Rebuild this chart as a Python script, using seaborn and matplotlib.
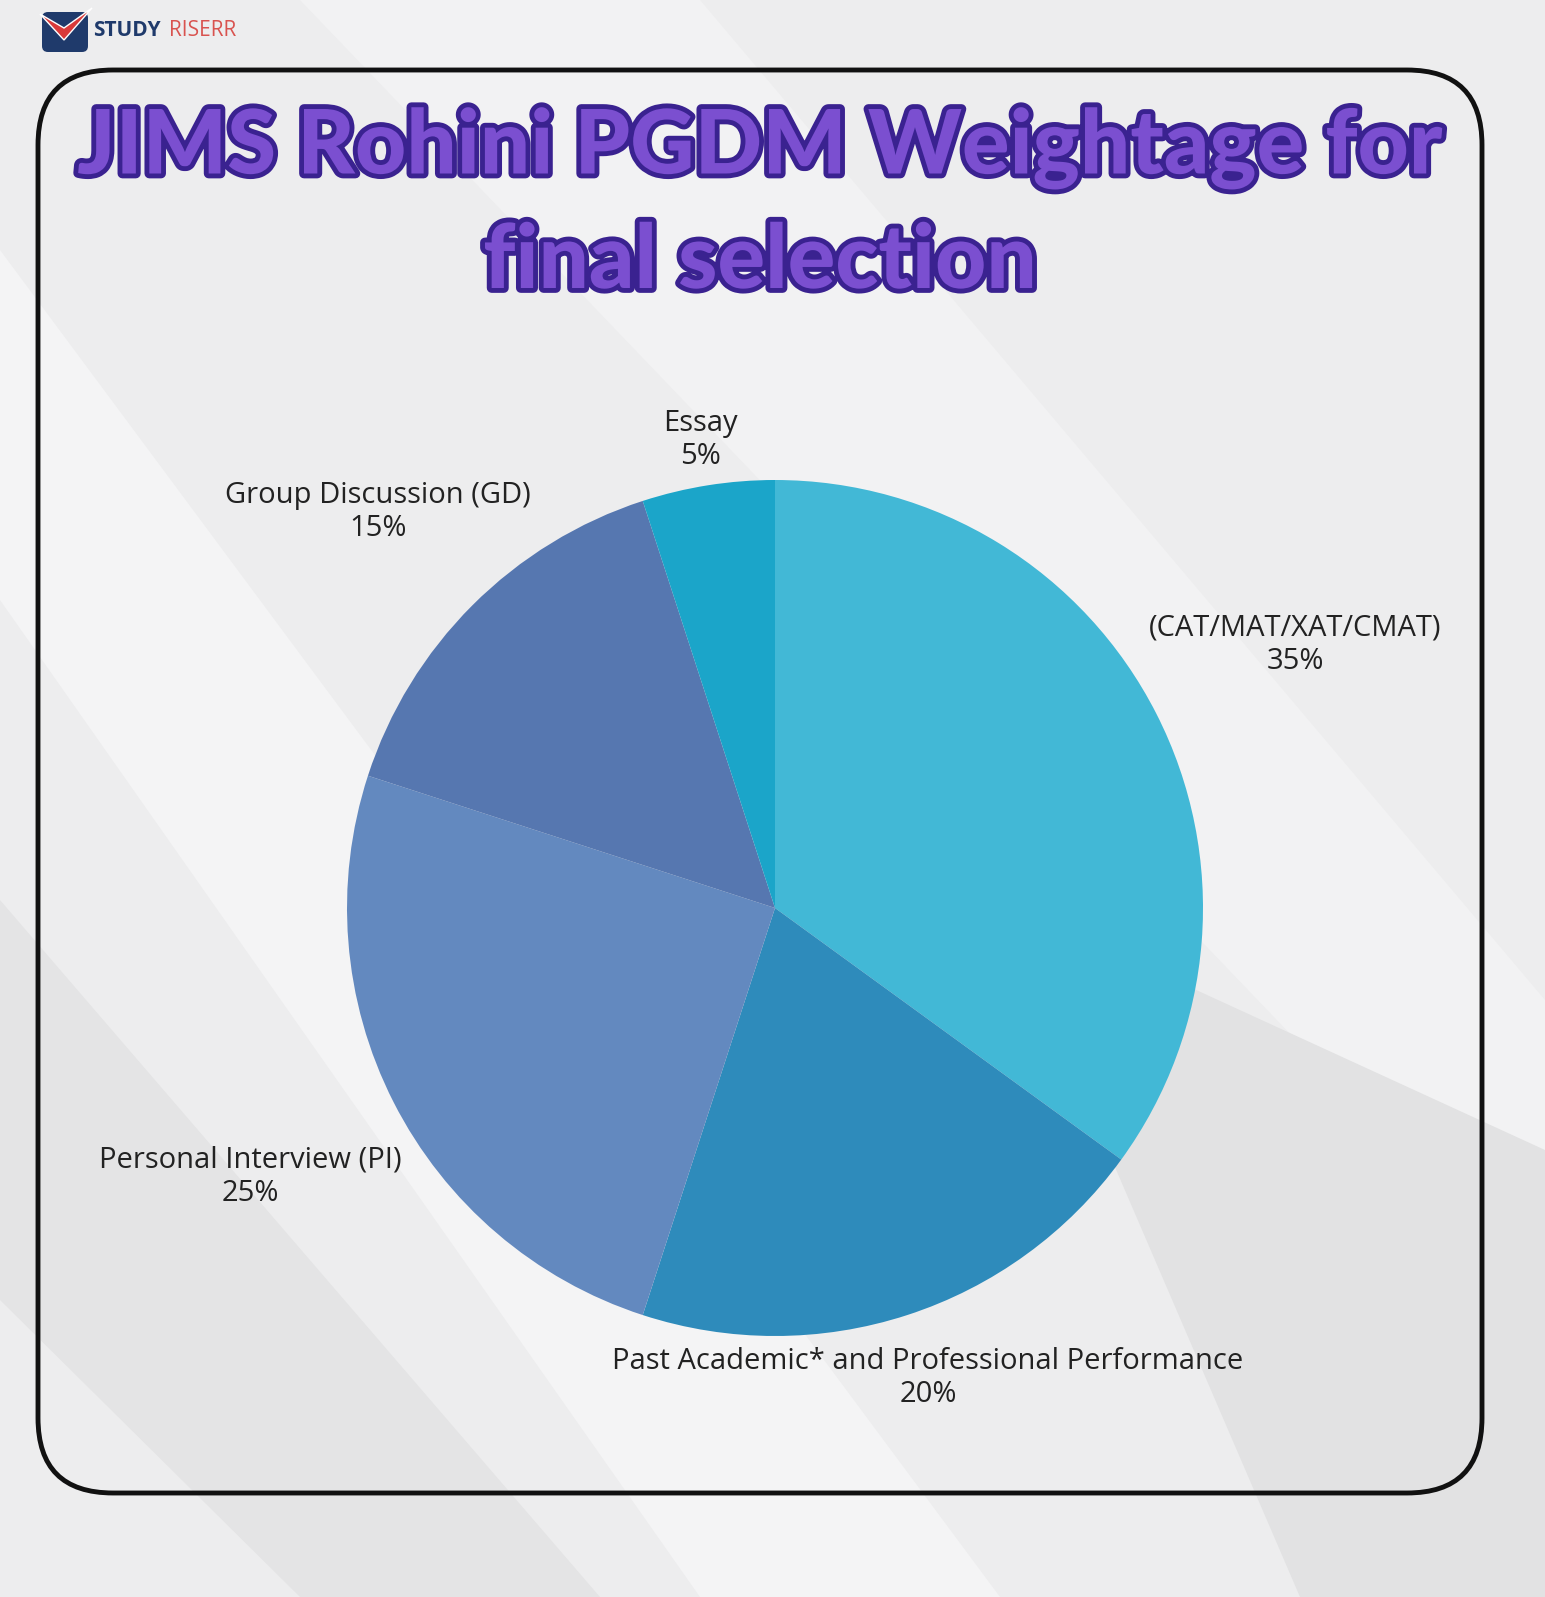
import matplotlib
matplotlib.use("Agg")
import matplotlib.pyplot as plt
import seaborn as sns
from matplotlib.patches import FancyBboxPatch, Polygon
import matplotlib.patheffects as pe

sns.set_theme(style="white")
plt.rcParams['font.family'] = ['Open Sans', 'DejaVu Sans']

categories = ["(CAT/MAT/XAT/CMAT)", "Past Academic* and Professional Performance",
              "Personal Interview (PI)", "Group Discussion (GD)", "Essay"]
values = [35, 20, 25, 15, 5]
colors = ["#42B8D6", "#2E8BBB", "#6389BF", "#5677B0", "#1BA5C9"]
title_lines = ["JIMS Rohini PGDM Weightage for", "final selection"]

W, H = 1545, 1597
fig = plt.figure(figsize=(W/100, H/100), dpi=100)
fig.patch.set_facecolor("#EDEDEE")

bg = fig.add_axes([0, 0, 1, 1])
bg.set_xlim(0, W); bg.set_ylim(H, 0); bg.axis("off")
for pts, c in [([(0, 250), (0, 600), (700, 1597), (1000, 1597)], "#F4F4F5"),
               ([(300, 0), (700, 0), (1545, 1000), (1545, 1300)], "#F2F2F3"),
               ([(0, 900), (0, 1300), (300, 1597), (600, 1597)], "#E4E4E5"),
               ([(1000, 900), (1545, 1150), (1545, 1597), (1300, 1597)], "#E2E2E3")]:
    bg.add_patch(Polygon(pts, closed=True, facecolor=c, edgecolor="none"))
bg.add_patch(FancyBboxPatch((38, 70), 1444, 1423, boxstyle="round,pad=0,rounding_size=75",
                            facecolor="none", edgecolor="#111111", linewidth=3.5))
# logo
bg.add_patch(FancyBboxPatch((42, 12), 46, 40, boxstyle="round,pad=0,rounding_size=6",
                            facecolor="#1F3A6B", edgecolor="none"))
bg.add_patch(Polygon([(40, 14), (64, 40), (92, 8), (64, 28)], closed=True, facecolor="#D93A3A"))
bg.text(93, 31, "STUDY", fontsize=15, fontweight="bold", color="#1F3A6B", va="center", ha="left")
bg.text(169, 31, "RISERR", fontsize=15, color="#D9534F", va="center", ha="left")

for y, line in zip([148, 262], title_lines):
    t = bg.text(760, y, line, fontsize=64, fontweight="black", color="#7B4FD0",
                ha="center", va="center", family=["Lato", "DejaVu Sans"])
    t.set_path_effects([pe.withStroke(linewidth=7, foreground="#3A2290")])

cx, cy, r = 775, 908, 428
ax = fig.add_axes([(cx - r)/W, 1 - (cy + r)/H, 2*r/W, 2*r/H])
ax.pie(values, colors=colors, startangle=90, counterclock=False,
       wedgeprops=dict(linewidth=0))
ax.set_xlim(-1, 1); ax.set_ylim(-1, 1)
ax.set_aspect("auto")

label_pos = [(1295, 645), (928, 1378), (250, 1177), (378, 512), (700, 440)]
for (x, y), name, v in zip(label_pos, categories, values):
    bg.text(x, y, f"{name}\n{v}%", fontsize=21, ha="center", va="center",
            color="#222222", linespacing=1.2)

fig.savefig("out.png", dpi=100, facecolor=fig.get_facecolor())
